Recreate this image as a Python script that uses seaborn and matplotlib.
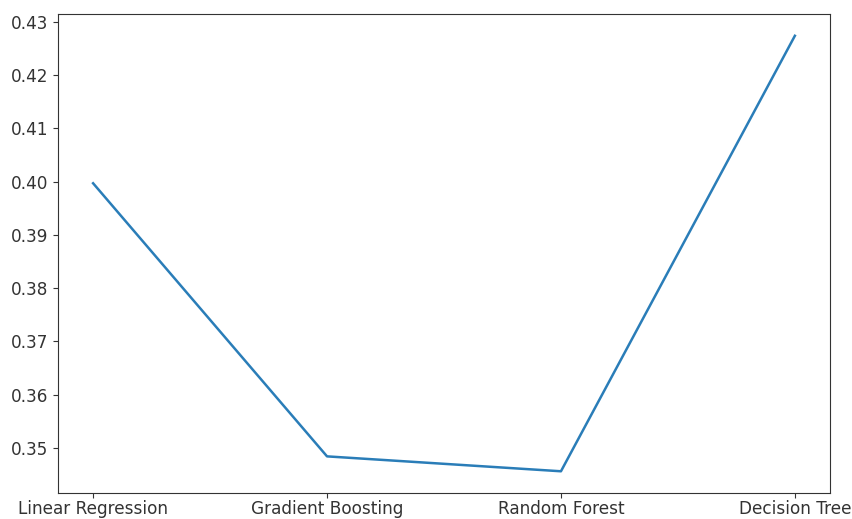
import matplotlib
matplotlib.use("Agg")
import matplotlib.pyplot as plt
import seaborn as sns
import pandas as pd

models = ["Linear Regression", "Gradient Boosting", "Random Forest", "Decision Tree"]
scores = [0.3997, 0.3484, 0.3456, 0.4274]

df = pd.DataFrame({"model": models, "score": scores})

fig, ax = plt.subplots(figsize=(8.53, 5.19), dpi=100)
fig.subplots_adjust(left=0.068, right=0.973, top=0.973, bottom=0.050)

sns.lineplot(data=df, x="model", y="score", sort=False, ax=ax,
             color="#2a7db8", linewidth=1.8)

ax.set_xlabel("")
ax.set_ylabel("")
ax.tick_params(axis="both", labelsize=12.2, colors="#333333")
ax.tick_params(axis="x", pad=1.5)
for s in ax.spines.values():
    s.set_color("#333333")

fig.savefig("out.png", dpi=100)
